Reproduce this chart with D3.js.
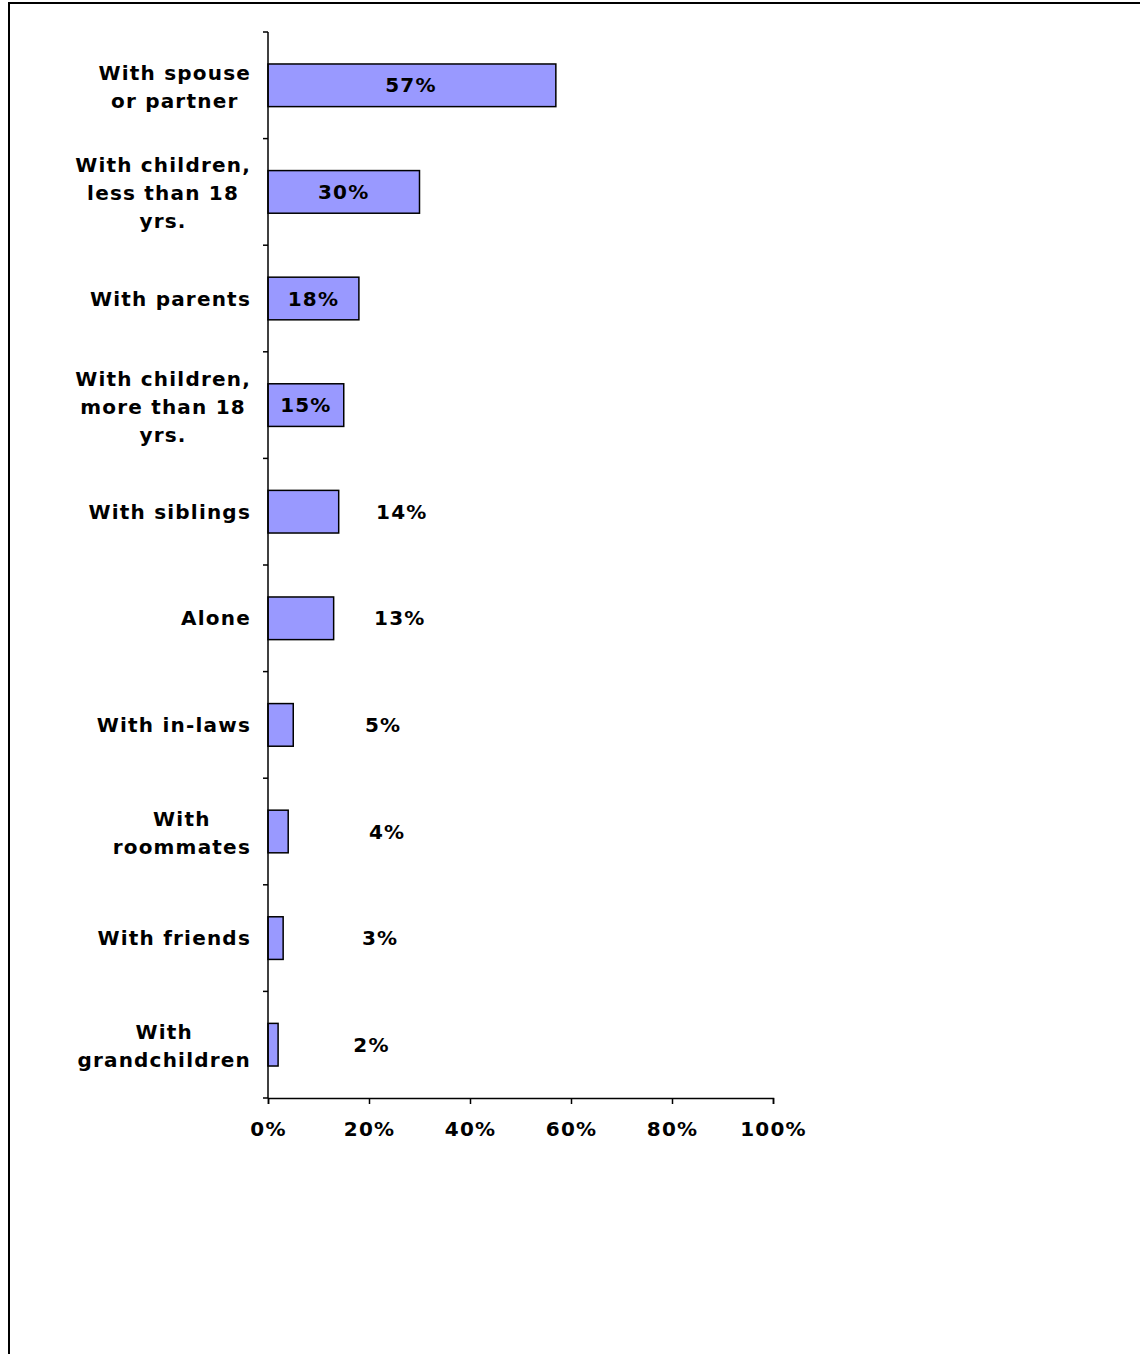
<!DOCTYPE html>
<html>
<head>
<meta charset="utf-8">
<script src="https://cdn.jsdelivr.net/npm/d3@7"></script>
<style>
  body { margin: 0; background: #fff; }
  svg { display: block; font-family: "DejaVu Sans", Verdana, sans-serif; font-weight: bold; }
</style>
</head>
<body>
<svg width="1140" height="1354"></svg>
<script>
const width = 1140, height = 1354;
const svg = d3.select("svg");

// categories (lines of each label) and values
const categories = [
    ["With spouse", "or partner"],
    ["With children,", "less than 18", "yrs."],
    ["With parents"],
    ["With children,", "more than 18", "yrs."],
    ["With siblings"],
    ["Alone"],
    ["With in-laws"],
    ["With", "roommates"],
    ["With friends"],
    ["With", "grandchildren"]
];
const values = [57, 30, 18, 15, 14, 13, 5, 4, 3, 2];
// where each value label sits (in % of the axis)
const labelAt = [28.3, 15, 9, 7.5, 26.5, 26.1, 22.8, 23.6, 22.2, 20.5];
const xTicks = [0, 20, 40, 60, 80, 100];

const fontSize = 20, spacing = 1.2;

// frame
svg.append("rect")
    .attr("x", 9).attr("y", 3)
    .attr("width", width + 20).attr("height", height + 20)
    .attr("fill", "none")
    .attr("stroke", "#000")
    .attr("stroke-width", 2);

const x = d3.scaleLinear().domain([0, 100]).range([268, 773]);
const y = d3.scaleBand()
    .domain(d3.range(categories.length))
    .range([32, 1098])
    .paddingInner(0.6)
    .paddingOuter(0.3);
const band = d3.scaleBand().domain(d3.range(categories.length)).range([32, 1098]);

// bars
svg.selectAll(".bar")
    .data(values)
    .enter().append("rect")
    .attr("class", "bar")
    .attr("x", x(0))
    .attr("y", (d, i) => y(i))
    .attr("width", d => x(d) - x(0))
    .attr("height", y.bandwidth())
    .attr("fill", "#9999ff")
    .attr("stroke", "#000")
    .attr("stroke-width", 1.5);

// y axis line + ticks at band boundaries
svg.append("line")
    .attr("x1", x(0)).attr("x2", x(0))
    .attr("y1", 32).attr("y2", 1098)
    .attr("stroke", "#000").attr("stroke-width", 1.5);
svg.selectAll(".ytick")
    .data(d3.range(categories.length + 1))
    .enter().append("line")
    .attr("x1", x(0) - 5).attr("x2", x(0))
    .attr("y1", i => i < categories.length ? band(i) : 1098)
    .attr("y2", i => i < categories.length ? band(i) : 1098)
    .attr("stroke", "#000").attr("stroke-width", 1.5);

// x axis
const xAxis = svg.append("g")
    .attr("transform", `translate(0,1098)`)
    .call(d3.axisBottom(x).tickValues(xTicks).tickSize(6).tickPadding(18)
        .tickFormat(d => d + "%"));
xAxis.select(".domain").attr("stroke-width", 1.5);
xAxis.selectAll(".tick line").attr("stroke-width", 1.5);
xAxis.selectAll("text")
    .attr("font-family", "DejaVu Sans, Verdana, sans-serif")
    .attr("font-weight", "bold")
    .attr("font-size", fontSize)
    .attr("letter-spacing", spacing)
    .attr("fill", "#000");

// category labels: lines centred, widest line ends near the axis
const lineH = 28, labelRight = 251;
categories.forEach((lines, i) => {
    const cy = band(i) + band.bandwidth() / 2;
    const t = svg.append("text")
        .attr("text-anchor", "middle")
        .attr("font-size", fontSize)
        .attr("letter-spacing", spacing);
    const spans = lines.map((ln, j) => t.append("tspan")
        .attr("y", cy + (j - (lines.length - 1) / 2) * lineH + (lines.length > 1 ? 8.5 : 7))
        .text(ln));
    const maxW = d3.max(spans, s => s.node().getComputedTextLength());
    spans.forEach(s => s.attr("x", labelRight - maxW / 2));
});

// value labels
svg.selectAll(".val")
    .data(values)
    .enter().append("text")
    .attr("class", "val")
    .attr("x", (d, i) => x(labelAt[i]))
    .attr("y", (d, i) => band(i) + band.bandwidth() / 2 + 7)
    .attr("text-anchor", "middle")
    .attr("font-size", fontSize)
    .attr("letter-spacing", spacing)
    .text(d => d + "%");
</script>
</body>
</html>
